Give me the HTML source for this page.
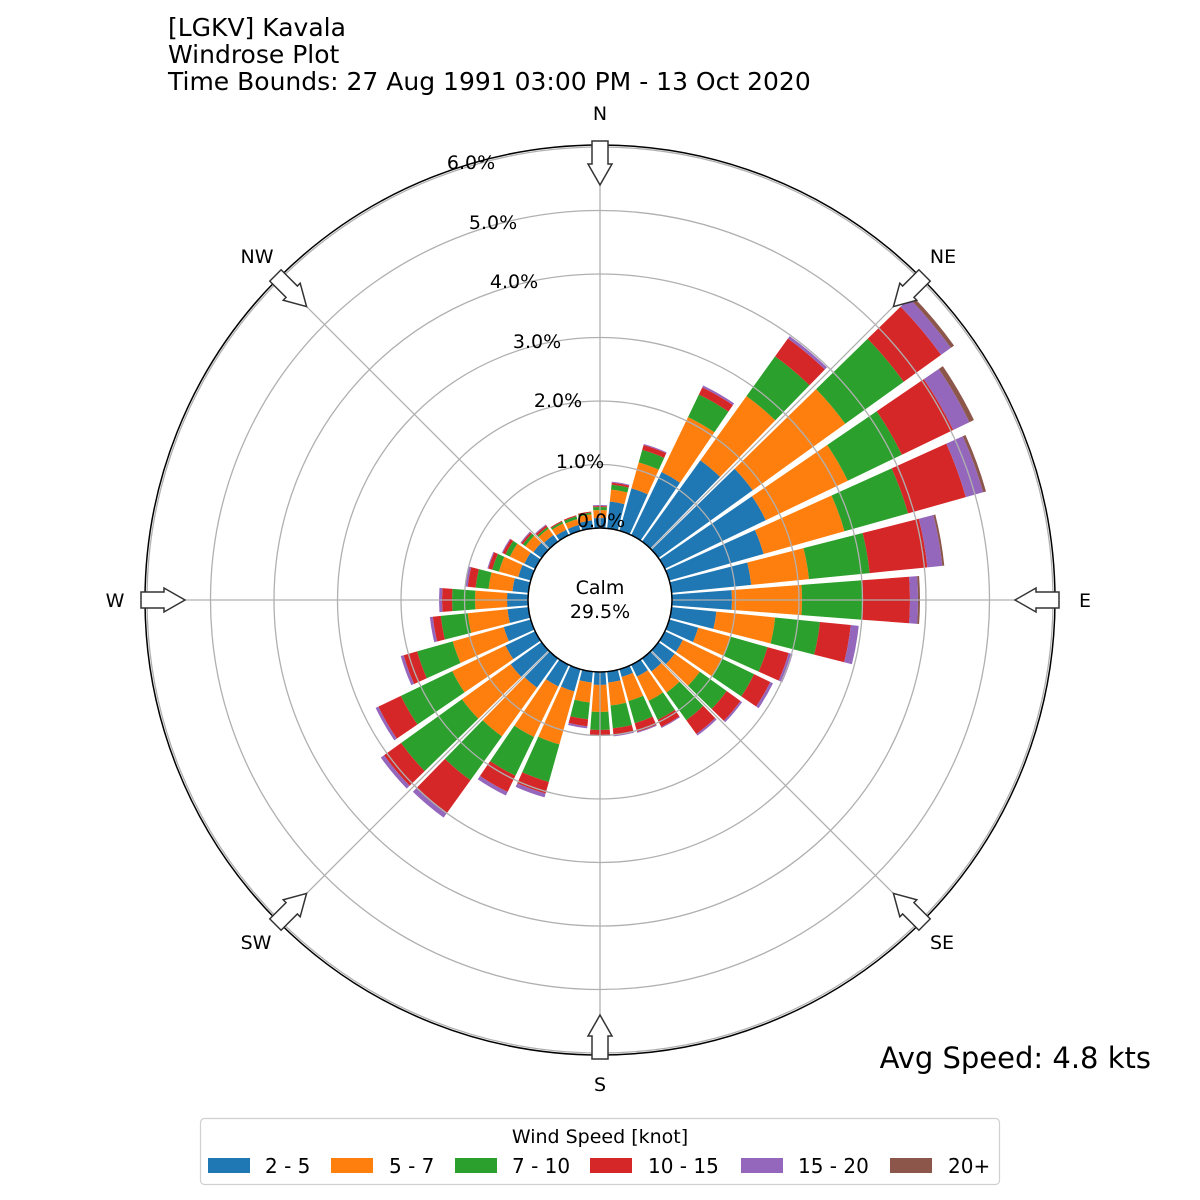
<!DOCTYPE html>
<html><head><meta charset="utf-8"><style>
body{margin:0;background:#fff;}
svg{display:block;font-family:"DejaVu Sans","Liberation Sans",sans-serif;}
</style></head><body>
<svg id="s" width="1200" height="1200" viewBox="0 0 1200 1200" xmlns="http://www.w3.org/2000/svg">
<rect width="1200" height="1200" fill="#fff"/>
<g id="bars"></g>
<g id="grid" fill="none" stroke="#b0b0b0" stroke-width="1.3"></g>
<circle cx="600" cy="600" r="455" fill="none" stroke="#000" stroke-width="1.5"/>
<circle cx="600" cy="600" r="72" fill="#fff" stroke="#000" stroke-width="1.5"/>
<g id="arrows"></g>
<g font-size="19" fill="#000">
<text x="600" y="594" text-anchor="middle">Calm</text>
<text x="600" y="618" text-anchor="middle">29.5%</text>
<text x="601" y="527" text-anchor="middle">0.0%</text>
<text x="580" y="468" text-anchor="middle">1.0%</text>
<text x="558" y="407" text-anchor="middle">2.0%</text>
<text x="537" y="348" text-anchor="middle">3.0%</text>
<text x="514" y="288" text-anchor="middle">4.0%</text>
<text x="493" y="229" text-anchor="middle">5.0%</text>
<text x="471" y="169" text-anchor="middle">6.0%</text>
<text x="600" y="120" text-anchor="middle">N</text>
<text x="943" y="263" text-anchor="middle">NE</text>
<text x="1085" y="607" text-anchor="middle">E</text>
<text x="942" y="949" text-anchor="middle">SE</text>
<text x="600" y="1091" text-anchor="middle">S</text>
<text x="256" y="949" text-anchor="middle">SW</text>
<text x="115" y="607" text-anchor="middle">W</text>
<text x="257" y="263" text-anchor="middle">NW</text>
</g>
<g font-size="25" fill="#000">
<text x="168" y="36">[LGKV] Kavala</text>
<text x="168" y="63">Windrose Plot</text>
<text x="168" y="90">Time Bounds: 27 Aug 1991 03:00 PM - 13 Oct 2020</text>
</g>
<text x="1151" y="1068" font-size="29" text-anchor="end">Avg Speed: 4.8 kts</text>
<rect x="200.5" y="1118.5" width="799" height="66" rx="4" fill="#fff" stroke="#d0d0d0" stroke-width="1.2"/>
<text x="600" y="1143" font-size="19" text-anchor="middle">Wind Speed [knot]</text>
<g font-size="20">
<rect x="208" y="1158" width="42" height="15" fill="#1f77b4"/><text x="265" y="1173">2 - 5</text>
<rect x="331" y="1158" width="42" height="15" fill="#ff7f0e"/><text x="389" y="1173">5 - 7</text>
<rect x="455" y="1158" width="42" height="15" fill="#2ca02c"/><text x="512" y="1173">7 - 10</text>
<rect x="590" y="1158" width="42" height="15" fill="#d62728"/><text x="648" y="1173">10 - 15</text>
<rect x="741" y="1158" width="42" height="15" fill="#9467bd"/><text x="798" y="1173">15 - 20</text>
<rect x="890" y="1158" width="42" height="15" fill="#8c564b"/><text x="948" y="1173">20+</text>
</g>
</svg>
<script>
var NS="http://www.w3.org/2000/svg";
var cols=["#1f77b4","#ff7f0e","#2ca02c","#d62728","#9467bd","#8c564b"];
var D=[[82,90,93,94,95],[99,111,116,118,119],[116,143,156,161,162],[142,203,228,236,238],
[172,251,300,322,325],[188,302,374,420,432,436],[184,275,335,392,410,415],[170,254,320,380,398,401],
[152,210,271,329,344,346],[132,202,263,310,318,320],[117,176,221,252,260],[102,136,174,196,200],
[92,135,171,189,192],[92,123,156,173,175],[88,114,148,165,167],[85,112,133,141,142],
[80,105,128,137,138],[83,106,129,136,137],[85,112,130,135,136],[83,103,120,127,129],
[95,150,189,201,205],[96,152,195,213,217],[108,168,222,262,268],[110,170,245,266,270],
[105,164,221,246,249],[100,153,190,204,207],[93,133,160,168,171],[93,125,148,158,161],
[88,112,125,133,136],[85,105,112,116,117],[84,100,105,108,109],[82,92,95,97,98],
[80,88,90,92,93],[78,85,87,88,88],[78,84,87,88,88],[80,86,88,89,89]];
function P(r,a){a=a*Math.PI/180;return (600+r*Math.sin(a)).toFixed(2)+","+(600-r*Math.cos(a)).toFixed(2);}
var bars=document.getElementById("bars");
D.forEach(function(c,i){var a=i*10,h=4.3,r0=72;
c.forEach(function(r1,k){if(r1<=r0)return;
var p=document.createElementNS(NS,"path");
p.setAttribute("d","M"+P(r0,a-h)+" L"+P(r1,a-h)+" A"+r1+","+r1+" 0 0 1 "+P(r1,a+h)+" L"+P(r0,a+h)+" A"+r0+","+r0+" 0 0 0 "+P(r0,a-h)+"Z");
p.setAttribute("fill",cols[k]);bars.appendChild(p);r0=r1;});});
var g=document.getElementById("grid");
for(var k=1;k<=6;k++){var c=document.createElementNS(NS,"circle");c.setAttribute("cx",600);c.setAttribute("cy",600);c.setAttribute("r",72+63.5*k);g.appendChild(c);}
for(var a=0;a<360;a+=45){var l=document.createElementNS(NS,"line");var p1=P(72,a).split(","),p2=P(453,a).split(",");
l.setAttribute("x1",p1[0]);l.setAttribute("y1",p1[1]);l.setAttribute("x2",p2[0]);l.setAttribute("y2",p2[1]);g.appendChild(l);}
var ar=document.getElementById("arrows");
for(var a=0;a<360;a+=45){var p=document.createElementNS(NS,"polygon");
p.setAttribute("points","592,141 608,141 608,164 612,164 600,185 588,164 592,164");
p.setAttribute("fill","#fff");p.setAttribute("stroke","#333");p.setAttribute("stroke-width","1.5");
p.setAttribute("transform","rotate("+a+",600,600)");ar.appendChild(p);}
</script>
</body></html>
